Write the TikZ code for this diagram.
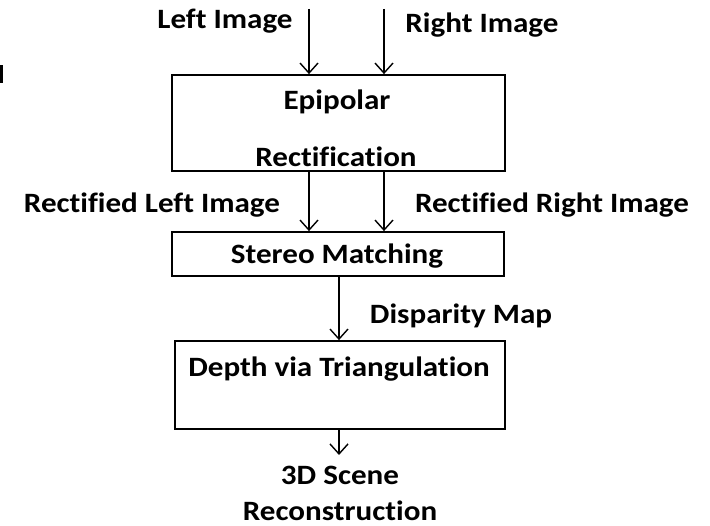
\documentclass[tikz,border=0pt]{standalone}
\usepackage{graphicx}
\usepackage{fontspec}
\setmainfont[Ligatures=NoCommon]{Carlito}
\usetikzlibrary{arrows.meta}
\newcommand{\wideT}[1]{\scalebox{1.11}[1]{#1}}
\begin{document}
\begin{tikzpicture}[x=1pt,y=-1pt,
  box/.style={draw, line width=1.8pt, inner sep=0pt},
  lbl/.style={font=\fontsize{28}{34}\selectfont\bfseries, inner sep=0pt, anchor=base},
  arr/.style={line width=1.4pt, -{Straight Barb[length=10pt,width=18pt,line width=1.4pt]}}]
\useasboundingbox (0,0) rectangle (710,526);
% clipped glyph at the left edge
\fill (0,65) rectangle (2.5,83);
% boxes
\node[box, minimum width=333pt, minimum height=96pt] (epi) at (338.5,123) {};
\node[box, minimum width=332pt, minimum height=44pt] (stereo) at (338,254) {};
\node[box, minimum width=330pt, minimum height=88pt] (depth) at (340,385) {};
% labels
\node[lbl] (limg) at (225,29) {\wideT{Left Image}};
\node[lbl] (rimg) at (482,33) {\wideT{Right Image}};
\node[lbl] (epi1) at (337,110) {\wideT{Epipolar}};
\node[lbl] (epi2) at (336,167) {\wideT{Rectification}};
\node[lbl] (rlimg) at (152,213) {\wideT{Rectified Left Image}};
\node[lbl] (rrimg) at (552,213) {\wideT{Rectified Right Image}};
\node[lbl] (stm) at (337,264) {\wideT{Stereo Matching}};
\node[lbl] (disp) at (461,324) {\wideT{Disparity Map}};
\node[lbl] (dep) at (339,377) {\wideT{Depth via Triangulation}};
\node[lbl] (out1) at (340,485) {\wideT{3D Scene}};
\node[lbl] (out2) at (340,521) {\wideT{Reconstruction}};
% connectors
\coordinate (l0) at (309,9);
\coordinate (r0) at (384,9);
\coordinate (c0) at (339,0);
\coordinate (e) at (339,455);
\draw[arr] (l0) -- (l0 |- epi.north);
\draw[arr] (r0) -- (r0 |- epi.north);
\draw[arr] (epi.south -| l0) -- (stereo.north -| l0);
\draw[arr] (epi.south -| r0) -- (stereo.north -| r0);
\draw[arr] (stereo.south -| c0) -- (depth.north -| c0);
\draw[arr] (depth.south -| c0) -- (e);
\end{tikzpicture}
\end{document}
